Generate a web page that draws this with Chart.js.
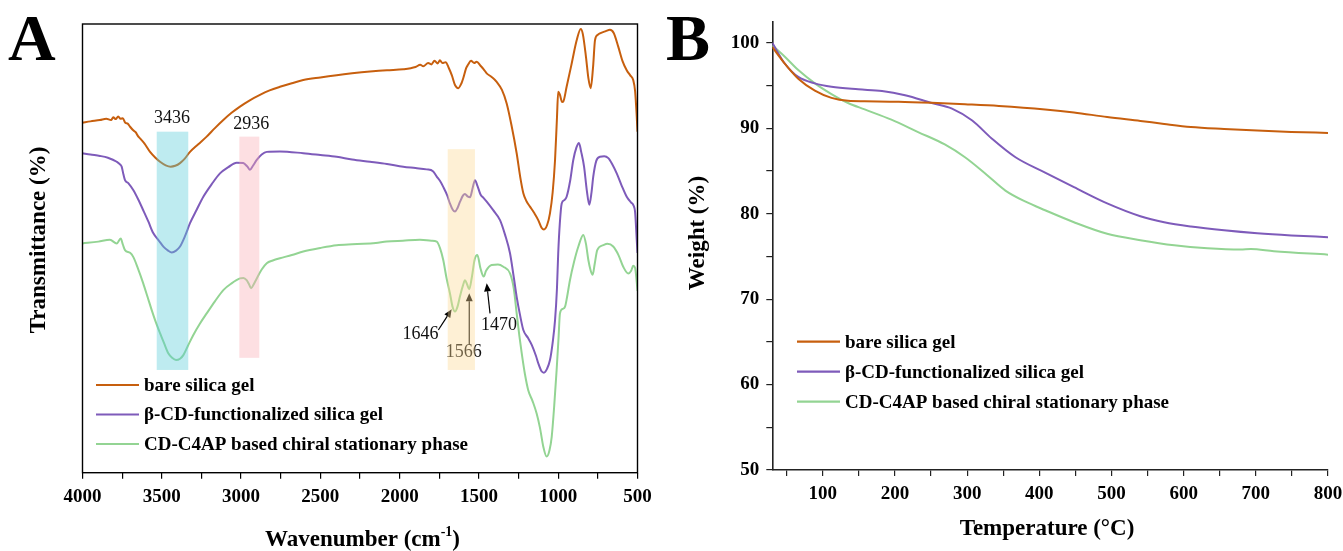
<!DOCTYPE html>
<html>
<head>
<meta charset="utf-8">
<title>FTIR and TGA</title>
<script src="https://cdn.jsdelivr.net/npm/chart.js@4.4.1/dist/chart.umd.min.js"></script>
<style>
  html, body { margin: 0; padding: 0; background: #fff; }
  #wrap { position: relative; width: 1343px; height: 551px; overflow: hidden; }
  #ftir { position: absolute; left: 0; top: 0; }
  #tga { position: absolute; left: 660px; top: 0; }
</style>
</head>
<body>
<div id="wrap">
  <canvas id="ftir" width="660" height="551"></canvas>
  <canvas id="tga" width="683" height="551"></canvas>
</div>
<script>
// ---- FTIR (panel A): wavenumber (cm-1) and transmittance (arb. units) ----
const bareWn = [4000, 3950, 3890, 3850, 3820, 3806, 3790, 3775, 3760, 3746, 3730, 3715, 3700, 3680, 3665, 3650, 3637, 3610, 3574, 3540, 3511, 3475, 3444, 3415, 3385, 3355, 3322, 3270, 3217, 3165, 3112, 3060, 3007, 2945, 2881, 2820, 2755, 2680, 2608, 2500, 2397, 2300, 2187, 2080, 1977, 1900, 1870, 1851, 1820, 1800, 1780, 1760, 1746, 1730, 1710, 1690, 1670, 1651, 1630, 1610, 1599, 1580, 1569, 1550, 1530, 1514, 1490, 1470, 1451, 1420, 1388, 1355, 1325, 1295, 1262, 1240, 1220, 1200, 1178, 1150, 1126, 1105, 1090, 1070, 1052, 1035, 1020, 1008, 1000, 990, 975, 968, 947, 915, 884, 858, 845, 825, 810, 795, 780, 768, 750, 737, 700, 674, 650, 621, 595, 568, 545, 527, 515, 505, 500];
const bareT = [78.0, 78.3, 78.6, 78.9, 78.6, 79.2, 78.8, 79.4, 78.9, 79.0, 78.0, 77.8, 77.1, 76.3, 75.9, 75.0, 74.5, 73.4, 71.5, 70.2, 69.3, 68.5, 68.2, 68.4, 69.0, 70.0, 71.5, 73.2, 74.9, 76.8, 78.6, 80.2, 81.6, 83.0, 84.2, 85.2, 86.0, 86.8, 87.5, 88.1, 88.6, 89.0, 89.4, 89.7, 89.9, 90.4, 90.9, 90.6, 91.3, 91.0, 91.8, 91.2, 91.9, 91.3, 91.5, 90.2, 88.5, 86.4, 85.7, 86.8, 87.9, 90.2, 90.9, 91.8, 91.3, 91.6, 90.7, 89.9, 89.0, 88.2, 87.1, 85.3, 82.3, 77.5, 71.2, 66.0, 62.3, 60.5, 59.3, 57.8, 56.3, 54.6, 54.2, 55.2, 57.8, 62.5, 69.7, 79.0, 84.9, 84.3, 82.6, 82.7, 86.0, 91.2, 96.3, 98.9, 97.8, 92.7, 88.0, 85.7, 90.5, 96.4, 97.6, 97.9, 98.4, 98.7, 98.0, 94.9, 91.8, 89.7, 88.5, 87.5, 85.0, 79.5, 76.0];

const cdWn = [4000, 3950, 3890, 3840, 3784, 3760, 3753, 3742, 3732, 3710, 3680, 3650, 3617, 3585, 3554, 3520, 3490, 3460, 3437, 3410, 3385, 3355, 3322, 3280, 3238, 3185, 3133, 3080, 3028, 2986, 2960, 2944, 2925, 2901, 2870, 2838, 2755, 2608, 2500, 2397, 2300, 2187, 2080, 1977, 1900, 1830, 1790, 1766, 1745, 1725, 1700, 1683, 1665, 1651, 1635, 1619, 1600, 1588, 1572, 1556, 1540, 1525, 1510, 1490, 1470, 1451, 1410, 1367, 1335, 1304, 1280, 1262, 1240, 1220, 1190, 1167, 1140, 1126, 1105, 1090, 1070, 1052, 1035, 1020, 1008, 1000, 990, 978, 960, 947, 925, 905, 885, 869, 855, 837, 820, 804, 790, 779, 760, 737, 710, 684, 660, 631, 600, 568, 540, 527, 515, 505, 500];
const cdT = [71.2, 70.9, 70.6, 70.2, 69.3, 68.6, 68.2, 66.5, 65.2, 64.5, 63.0, 61.0, 58.5, 56.0, 53.4, 51.8, 50.4, 49.5, 49.1, 49.5, 50.4, 52.6, 55.6, 58.6, 61.5, 64.3, 66.7, 68.1, 69.1, 69.0, 68.2, 67.5, 68.4, 69.7, 70.9, 71.5, 71.6, 71.2, 70.8, 70.4, 69.8, 69.3, 68.8, 68.2, 67.9, 67.6, 67.2, 66.0, 65.0, 63.7, 61.8, 60.0, 58.6, 58.2, 59.0, 60.4, 61.8, 62.1, 61.6, 61.4, 63.4, 65.2, 64.0, 62.0, 61.2, 60.4, 58.5, 56.3, 53.0, 48.9, 43.5, 39.2, 35.0, 31.8, 30.0, 28.5, 26.0, 24.4, 22.6, 22.3, 23.2, 25.1, 29.0, 34.0, 41.0, 48.9, 55.5, 60.0, 60.8, 61.5, 65.0, 69.7, 72.5, 73.5, 71.5, 68.2, 63.0, 59.7, 62.5, 66.0, 69.5, 70.4, 70.5, 70.1, 68.8, 66.7, 64.0, 61.5, 60.2, 59.7, 58.0, 52.0, 49.0];

const c4apWn = [4000, 3900, 3827, 3784, 3759, 3745, 3732, 3700, 3680, 3650, 3617, 3590, 3564, 3540, 3511, 3485, 3459, 3435, 3410, 3385, 3364, 3335, 3301, 3260, 3217, 3165, 3112, 3060, 3007, 2985, 2965, 2950, 2937, 2920, 2901, 2870, 2838, 2800, 2755, 2680, 2608, 2500, 2397, 2300, 2229, 2150, 2082, 1980, 1872, 1800, 1766, 1745, 1725, 1705, 1683, 1665, 1651, 1635, 1619, 1600, 1588, 1575, 1561, 1545, 1527, 1510, 1490, 1470, 1455, 1420, 1380, 1346, 1304, 1280, 1262, 1245, 1230, 1210, 1189, 1160, 1136, 1115, 1094, 1073, 1055, 1041, 1025, 1010, 998, 989, 972, 957, 945, 926, 900, 873, 842, 825, 810, 795, 783, 770, 754, 716, 690, 653, 620, 590, 558, 540, 527, 515, 505, 500];
const c4apT = [51.1, 51.5, 51.9, 51.1, 52.2, 50.8, 49.6, 49.0, 48.1, 45.5, 42.2, 39.2, 36.3, 33.8, 31.1, 28.8, 26.6, 25.6, 25.1, 25.4, 26.2, 28.3, 30.7, 33.2, 35.5, 38.2, 40.7, 42.2, 43.3, 43.4, 42.9, 42.0, 41.1, 42.0, 43.3, 45.3, 46.7, 47.3, 47.8, 48.5, 49.3, 50.1, 50.7, 50.9, 51.0, 51.2, 51.5, 51.7, 51.9, 51.7, 51.5, 50.0, 47.4, 43.5, 40.0, 36.8, 35.9, 37.0, 39.4, 41.8, 42.9, 42.0, 40.9, 43.5, 47.5, 48.5, 45.5, 43.7, 45.0, 46.3, 46.4, 45.9, 44.4, 41.0, 35.5, 30.5, 26.6, 22.0, 18.4, 15.8, 13.2, 10.0, 5.8, 3.6, 5.0, 8.0, 15.0, 22.9, 30.0, 35.5, 36.5, 37.0, 39.0, 42.9, 47.0, 50.4, 53.0, 51.0, 47.4, 45.0, 44.1, 46.5, 49.6, 50.7, 51.0, 50.4, 48.5, 45.9, 44.4, 45.0, 46.1, 45.6, 42.5, 40.5];

// ---- TGA (panel B): temperature (°C) and weight (%) ----
const bareTemp = [30, 47, 66, 89, 112, 135, 158, 205, 251, 297, 344, 408, 448, 494, 540, 573, 610, 656, 702, 749, 800];
const bareWeight = [99.5, 97.6, 95.8, 94.4, 93.55, 93.2, 93.15, 93.1, 92.97, 92.8, 92.6, 92.2, 91.85, 91.3, 90.85, 90.5, 90.15, 89.92, 89.73, 89.57, 89.45];

const cdTemp = [30, 47, 66, 89, 112, 149, 182, 214, 251, 279, 307, 334, 367, 408, 448, 494, 540, 573, 610, 656, 702, 749, 800];
const cdWeight = [100, 97.6, 96.0, 95.25, 94.85, 94.55, 94.35, 93.85, 92.95, 92.3, 90.9, 88.8, 86.6, 84.8, 83.1, 81.2, 79.7, 79.0, 78.5, 78.05, 77.7, 77.45, 77.25];

const c4apTemp = [30, 47, 66, 89, 112, 135, 158, 195, 232, 269, 297, 325, 353, 381, 408, 448, 494, 540, 587, 633, 679, 693, 725, 800];
const c4apWeight = [99.7, 98.4, 96.8, 95.25, 94.0, 92.95, 92.2, 91.0, 89.55, 88.1, 86.6, 84.7, 82.7, 81.4, 80.4, 79.0, 77.65, 76.9, 76.3, 75.95, 75.8, 75.85, 75.6, 75.2];

const seriesNames = ["bare silica gel", "\u03B2-CD-functionalized silica gel", "CD-C4AP based chiral stationary phase"];
const seriesColors = ["#C75F0E", "#7E5BBA", "#93D493"];

const SERIF = '"Liberation Serif", "Times New Roman", serif';

function toPoints(xs, ys) {
  return xs.map((x, i) => ({ x: x, y: ys[i] }));
}

function makeDataset(i, xs, ys) {
  return {
    label: seriesNames[i],
    data: toPoints(xs, ys),
    borderColor: seriesColors[i],
    borderWidth: 2,
    pointRadius: 0,
    fill: false,
    cubicInterpolationMode: "monotone",
  };
}

function drawArrow(ctx, x1, y1, x2, y2, color) {
  const ang = Math.atan2(y2 - y1, x2 - x1);
  const head = 8;
  const half = 3.5;
  const cos = Math.cos(ang);
  const sin = Math.sin(ang);
  ctx.save();
  ctx.strokeStyle = color;
  ctx.fillStyle = color;
  ctx.lineWidth = 1.2;
  ctx.beginPath();
  ctx.moveTo(x1, y1);
  ctx.lineTo(x2 - head * cos, y2 - head * sin);
  ctx.stroke();
  ctx.beginPath();
  ctx.moveTo(x2, y2);
  ctx.lineTo(x2 - head * cos + half * sin, y2 - head * sin - half * cos);
  ctx.lineTo(x2 - head * cos - half * sin, y2 - head * sin + half * cos);
  ctx.closePath();
  ctx.fill();
  ctx.restore();
}

function drawLegend(chart, x0, y0, rowGap) {
  const ctx = chart.ctx;
  ctx.save();
  ctx.font = "bold 19px " + SERIF;
  ctx.textBaseline = "middle";
  ctx.textAlign = "left";
  chart.data.datasets.forEach((ds, i) => {
    const y = y0 + i * rowGap;
    ctx.strokeStyle = ds.borderColor;
    ctx.lineWidth = 2.2;
    ctx.beginPath();
    ctx.moveTo(x0, y);
    ctx.lineTo(x0 + 43, y);
    ctx.stroke();
    ctx.fillStyle = "#000";
    ctx.fillText(ds.label, x0 + 48, y + 1);
  });
  ctx.restore();
}

function rotatedText(ctx, text, x, y, font) {
  ctx.save();
  ctx.translate(x, y);
  ctx.rotate(-Math.PI / 2);
  ctx.font = font;
  ctx.fillStyle = "#000";
  ctx.textAlign = "center";
  ctx.textBaseline = "middle";
  ctx.fillText(text, 0, 0);
  ctx.restore();
}

// peak labels, arrows and shaded bands (in data units)
const peakLabels = [
  { text: "3436", x: 3436, y: 79.0, color: "#111" },
  { text: "2936", x: 2936, y: 77.7, color: "#111" },
  { text: "1646", x: 1869, y: 30.9, color: "#111" },
  { text: "1566", x: 1596, y: 26.8, color: "#111" },
  { text: "1470", x: 1374, y: 32.9, color: "#111" },
];
const peakArrows = [
  { x1: 1756, y1: 31.8, x2: 1672, y2: 36.4 },
  { x1: 1561, y1: 28.5, x2: 1561, y2: 40.0 },
  { x1: 1430, y1: 35.5, x2: 1451, y2: 42.2 },
];
const bands = [
  { from: 3532, to: 3333, low: 22.9, high: 76.0, color: "rgba(92, 205, 217, 0.4)" },
  { from: 3011, to: 2885, low: 25.6, high: 74.9, color: "rgba(250, 175, 182, 0.4)" },
  { from: 1697, to: 1525, low: 22.9, high: 72.1, color: "rgba(252, 217, 150, 0.4)" },
];

const ftirDecor = {
  id: "ftirDecor",
  afterDatasetsDraw(chart) {
    const ctx = chart.ctx;
    const xs = chart.scales.x;
    const ys = chart.scales.y;
    ctx.save();
    ctx.font = "18px " + SERIF;
    ctx.textAlign = "center";
    ctx.textBaseline = "middle";
    peakLabels.forEach((p) => {
      ctx.fillStyle = p.color;
      ctx.fillText(p.text, xs.getPixelForValue(p.x), ys.getPixelForValue(p.y));
    });
    ctx.restore();
    peakArrows.forEach((a) => {
      drawArrow(ctx, xs.getPixelForValue(a.x1), ys.getPixelForValue(a.y1),
        xs.getPixelForValue(a.x2), ys.getPixelForValue(a.y2), "#000");
    });
    ctx.save();
    bands.forEach((b) => {
      const left = xs.getPixelForValue(b.from);
      const right = xs.getPixelForValue(b.to);
      const top = ys.getPixelForValue(b.high);
      const bottom = ys.getPixelForValue(b.low);
      ctx.fillStyle = b.color;
      ctx.fillRect(left, top, right - left, bottom - top);
    });
    ctx.restore();
  },
  afterDraw(chart) {
    const ctx = chart.ctx;
    const a = chart.chartArea;
    ctx.save();
    ctx.strokeStyle = "#000";
    ctx.lineWidth = 1.4;
    ctx.strokeRect(a.left, a.top, a.right - a.left, a.bottom - a.top);
    ctx.restore();

    drawLegend(chart, 96, 385, 29.5);

    ctx.save();
    ctx.fillStyle = "#000";
    ctx.font = "bold 66px " + SERIF;
    ctx.textAlign = "left";
    ctx.textBaseline = "alphabetic";
    ctx.fillText("A", 8, 60);

    // x axis title with superscript
    ctx.font = "bold 23px " + SERIF;
    const main = "Wavenumber (cm";
    const sup = "-1";
    const tail = ")";
    const wMain = ctx.measureText(main).width;
    ctx.font = "bold 14px " + SERIF;
    const wSup = ctx.measureText(sup).width;
    ctx.font = "bold 23px " + SERIF;
    const wTail = ctx.measureText(tail).width;
    let x = 362.5 - (wMain + wSup + wTail) / 2;
    const base = 546;
    ctx.fillText(main, x, base);
    x += wMain;
    ctx.font = "bold 14px " + SERIF;
    ctx.fillText(sup, x, base - 10);
    x += wSup;
    ctx.font = "bold 23px " + SERIF;
    ctx.fillText(tail, x, base);
    ctx.restore();

    rotatedText(ctx, "Transmittance (%)", 39, 240, "bold 23px " + SERIF);
  },
};

new Chart(document.getElementById("ftir"), {
  type: "line",
  data: {
    datasets: [
      makeDataset(0, bareWn, bareT),
      makeDataset(1, cdWn, cdT),
      makeDataset(2, c4apWn, c4apT),
    ],
  },
  options: {
    responsive: false,
    animation: false,
    layout: { padding: { top: 24, right: 22.5, left: 0, bottom: 0 } },
    plugins: { legend: { display: false }, tooltip: { enabled: false } },
    scales: {
      x: {
        type: "linear",
        reverse: true,
        min: 500,
        max: 4000,
        ticks: {
          stepSize: 250,
          autoSkip: false,
          maxRotation: 0,
          color: "#000",
          padding: 7,
          font: { family: SERIF, size: 19, weight: "bold" },
          callback: (v) => (v % 500 === 0 ? v : ""),
        },
        grid: { drawOnChartArea: false, drawTicks: true, tickLength: 6, color: "#000", lineWidth: 1.2 },
        border: { display: false },
        afterFit: (s) => { s.height = 78.3; s.paddingLeft = 0; s.paddingRight = 0; },
      },
      y: {
        min: 0,
        max: 100,
        ticks: { display: false },
        grid: { display: false },
        border: { display: false },
        afterFit: (s) => { s.width = 82.5; },
      },
    },
  },
  plugins: [ftirDecor],
});

const tgaDecor = {
  id: "tgaDecor",
  afterDraw(chart) {
    const ctx = chart.ctx;
    drawLegend(chart, 137, 341.7, 30);
    ctx.save();
    ctx.fillStyle = "#000";
    ctx.font = "bold 66px " + SERIF;
    ctx.textAlign = "left";
    ctx.textBaseline = "alphabetic";
    ctx.fillText("B", 6, 60);
    ctx.font = "bold 23px " + SERIF;
    ctx.textAlign = "center";
    ctx.fillText("Temperature (\u00B0C)", 387, 535);
    ctx.restore();
    rotatedText(ctx, "Weight (%)", 38, 233, "bold 23px " + SERIF);
  },
};

new Chart(document.getElementById("tga"), {
  type: "line",
  data: {
    datasets: [
      makeDataset(0, bareTemp, bareWeight),
      makeDataset(1, cdTemp, cdWeight),
      makeDataset(2, c4apTemp, c4apWeight),
    ],
  },
  options: {
    responsive: false,
    animation: false,
    layout: { padding: { top: 21.4, right: 15, left: 0, bottom: 0 } },
    plugins: { legend: { display: false }, tooltip: { enabled: false } },
    scales: {
      x: {
        type: "linear",
        min: 30,
        max: 800,
        ticks: {
          stepSize: 50,
          includeBounds: false,
          autoSkip: false,
          maxRotation: 0,
          color: "#000",
          padding: 7,
          font: { family: SERIF, size: 19, weight: "bold" },
          callback: (v) => (v % 100 === 0 ? v : ""),
        },
        grid: { drawOnChartArea: false, drawTicks: true, tickLength: 6, color: "#222", lineWidth: 1.2 },
        border: { display: true, color: "#222", width: 1.6 },
        afterFit: (s) => { s.height = 81; s.paddingLeft = 0; s.paddingRight = 0; },
      },
      y: {
        min: 50,
        max: 102.5,
        ticks: {
          stepSize: 5,
          includeBounds: false,
          autoSkip: false,
          color: "#000",
          padding: 7,
          font: { family: SERIF, size: 19, weight: "bold" },
          callback: (v) => (v % 10 === 0 ? v : ""),
        },
        grid: { drawOnChartArea: false, drawTicks: true, tickLength: 6, color: "#222", lineWidth: 1.2 },
        border: { display: true, color: "#222", width: 1.6 },
        afterFit: (s) => { s.width = 112.3; s.paddingTop = 0; s.paddingBottom = 0; },
      },
    },
  },
  plugins: [tgaDecor],
});
</script>
</body>
</html>
